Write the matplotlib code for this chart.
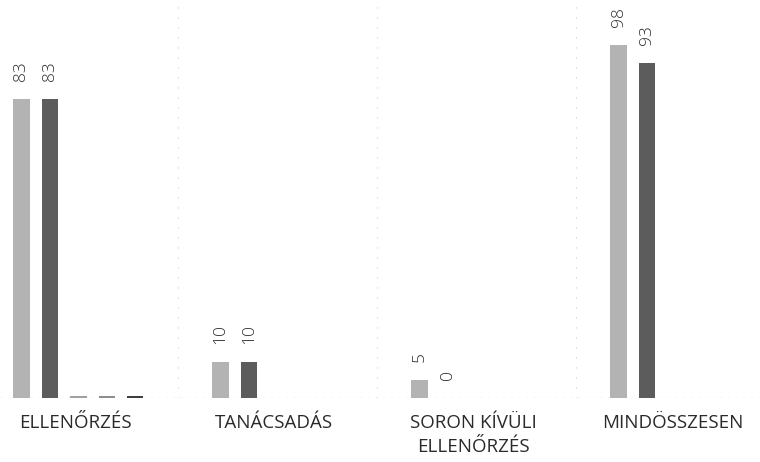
import numpy as np
import matplotlib
matplotlib.use("Agg")
import matplotlib.pyplot as plt

plt.rcParams['font.family'] = ['Open Sans', 'DejaVu Sans']

# data
categories = ["ELLENŐRZÉS", "TANÁCSADÁS", "SORON KÍVÜLI\nELLENŐRZÉS", "MINDÖSSZESEN"]
series_a = [83, 10, 5, 98]
series_b = [83, 10, 0, 93]
series_c = [0.6, 0, 0, 0]
series_d = [0.6, 0, 0, 0]
series_e = [0.6, 0, 0, 0]

all_series = [series_a, series_b, series_c, series_d, series_e]
colors = ["#b3b3b3", "#5c5c5c", "#a0a0a0", "#8e8e8e", "#3e3e3e"]
labelled = [True, True, False, False, False]

fig = plt.figure(figsize=(7.6, 4.62), dpi=100)
ax = fig.add_axes([0, 64 / 462, 1, 398 / 462])

x = np.arange(len(categories))
step = 0.143
width = 0.082

for i, (vals, col) in enumerate(zip(all_series, colors)):
    pos = x + (i - 2) * step
    bars = ax.bar(pos, vals, width=width, color=col, zorder=3)
    if labelled[i]:
        for b, v in zip(bars, vals):
            ax.annotate(str(v), (b.get_x() + b.get_width() / 2, v),
                        xytext=(0, 13), textcoords="offset points",
                        rotation=90, ha="center", va="bottom",
                        fontsize=12.5, fontweight="light", color="#2e2e2e")

# category separators + baseline
for b in [0.5, 1.5, 2.5]:
    ax.axvline(b, color="#cfcfcf", lw=0.8, ls=(0, (1, 8)), zorder=1)
ax.axhline(0, color="#b8b8b8", lw=0.9, ls=(0, (2, 4)), zorder=2)

ax.set_xlim(-0.394, 3.425)
ax.set_ylim(0, 110.6)
ax.axis("off")

for xi, lab in zip(x, categories):
    fig.text((xi + 0.394) / 3.819 - 0.004, (462 - 414) / 462, lab,
             ha="center", va="top", fontsize=13.5, color="#2a2a2a",
             linespacing=1.4)

fig.savefig("out.png", dpi=100)
